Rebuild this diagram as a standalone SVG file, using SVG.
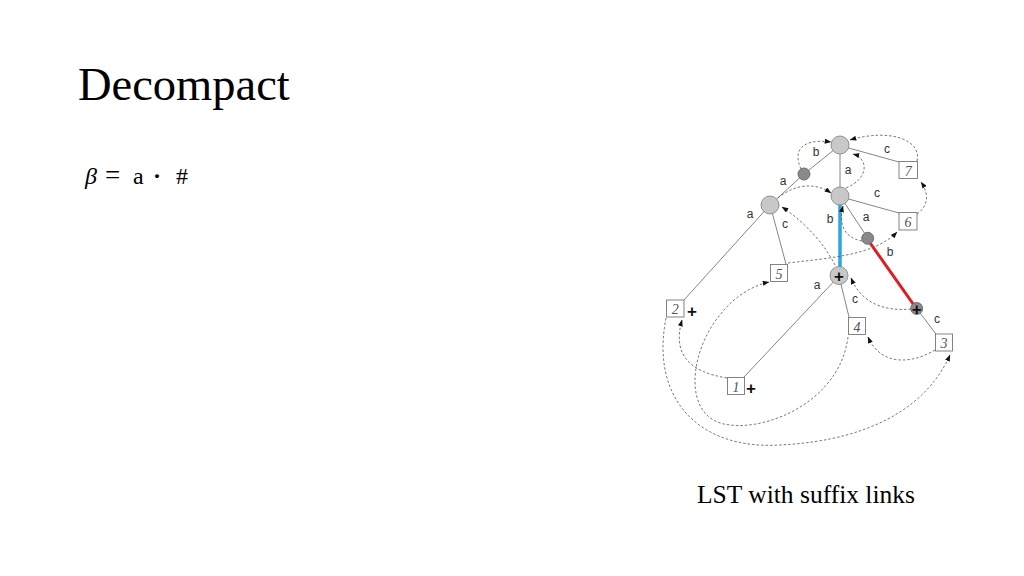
<svg xmlns="http://www.w3.org/2000/svg" width="1024" height="576" viewBox="0 0 1024 576">
<defs>
<marker id="ah" viewBox="0 0 8 6" refX="7.5" refY="3" markerWidth="7" markerHeight="5" orient="auto" markerUnits="userSpaceOnUse">
<path d="M0,0 L8,3 L0,6 Z" fill="#111"/>
</marker>
<style>
.t{font-family:"Liberation Serif","Times New Roman",serif;fill:#000}
.e{stroke:#777;stroke-width:0.9;fill:none}
.s{stroke:#555;stroke-width:0.8;fill:none;stroke-dasharray:2.5 2;marker-end:url(#ah)}
.n{fill:#c8c8c8;stroke:#888;stroke-width:0.9}
.d{fill:#8a8a8a;stroke:#666;stroke-width:0.9}
.b{fill:#fff;stroke:#777;stroke-width:0.9}
.bl{font-family:"Liberation Serif",serif;font-style:italic;font-size:14px;fill:#555;text-anchor:middle}
.l{font-family:"Liberation Sans",Arial,sans-serif;font-size:12px;fill:#333;text-anchor:middle}
.p{font-family:"Liberation Sans",Arial,sans-serif;font-size:17px;font-weight:bold;fill:#111;text-anchor:middle}
</style>
</defs>
<rect width="1024" height="576" fill="#fff"/>
<text class="t" x="78" y="100" font-size="46.5">Decompact</text>
<text class="t" font-size="24" y="184"><tspan x="85" font-style="italic">β</tspan><tspan x="105" font-size="27">=</tspan><tspan x="133">a</tspan><tspan x="153" font-weight="bold">·</tspan><tspan x="176">#</tspan></text>
<text class="t" x="697" y="503" font-size="25.5">LST with suffix links</text>

<g id="edges">
<line class="e" x1="840" y1="145" x2="804" y2="174"/>
<line class="e" x1="804" y1="174" x2="770" y2="205"/>
<line class="e" x1="840" y1="145" x2="840" y2="196"/>
<line class="e" x1="845" y1="147" x2="899" y2="162"/>
<line class="e" x1="845" y1="198" x2="899" y2="213"/>
<line class="e" x1="840" y1="196" x2="867.7" y2="238"/>
<line class="e" x1="770" y1="205" x2="684" y2="300"/>
<line class="e" x1="772" y1="212" x2="786" y2="264"/>
<line class="e" x1="839" y1="276" x2="744" y2="377"/>
<line class="e" x1="839" y1="276" x2="849" y2="317"/>
<line class="e" x1="917" y1="309" x2="936" y2="334"/>
<line x1="840" y1="204" x2="840" y2="267" stroke="#29a8e0" stroke-width="3.5"/>
<line x1="868" y1="240" x2="916.7" y2="309" stroke="#e51a1f" stroke-width="3"/>
</g>

<g id="links">
<path class="s" d="M801,169 C793,152 800,138 831,142"/>
<path class="s" d="M917,161 C922,140 890,128 850,140"/>
<path class="s" d="M846,188 C870,178 868,158 853,154"/>
<path class="s" d="M917,214 C930,205 928,192 921,182"/>
<path class="s" d="M778,198 C795,184 815,182 831,193"/>
<path class="s" d="M835,265 C825,245 805,222 782,207"/>
<path class="s" d="M788,263 C830,258 875,255 897,232"/>
<path class="s" d="M862,241 C845,238 838,225 843,206"/>
<path class="s" d="M911,309 C880,312 860,300 851,278"/>
<path class="s" d="M935,350 C910,365 880,365 868,337"/>
<path class="s" d="M727,378 C690,372 672,355 682,320"/>
<path class="s" d="M848,337 C840,400 770,430 730,425 C680,420 690,350 720,315 C735,295 755,285 769,282"/>
<path class="s" d="M666,318 C650,400 700,450 780,445 C880,440 930,400 950,355"/>
</g>

<g id="labels">
<text class="l" x="816" y="156">b</text>
<text class="l" x="848" y="174">a</text>
<text class="l" x="887" y="153">c</text>
<text class="l" x="783" y="185">a</text>
<text class="l" x="750" y="218">a</text>
<text class="l" x="785" y="228">c</text>
<text class="l" x="830" y="223">b</text>
<text class="l" x="877" y="197">c</text>
<text class="l" x="866" y="221">a</text>
<text class="l" x="890" y="256">b</text>
<text class="l" x="817" y="289">a</text>
<text class="l" x="855" y="303">c</text>
<text class="l" x="937" y="323">c</text>
</g>

<g id="nR"><circle class="n" cx="840" cy="145" r="9"/></g>
<g id="nD1"><circle class="d" cx="804" cy="174" r="6"/></g>
<g id="nA"><circle class="n" cx="770" cy="205" r="9"/></g>
<g id="nB"><circle class="n" cx="840" cy="196" r="9"/></g>
<g id="nD2"><circle class="d" cx="867.7" cy="238.3" r="6"/></g>
<g id="nP"><circle class="n" cx="839" cy="275.5" r="9"/><text class="p" x="839" y="281.5">+</text></g>
<g id="nD3"><circle class="d" cx="916.7" cy="308.5" r="6"/><text class="p" x="916.7" y="314.5">+</text></g>
<g id="n7"><rect class="b" x="899" y="161.5" width="18.5" height="17"/><text class="bl" x="908.3" y="175.5">7</text></g>
<g id="n6"><rect class="b" x="899" y="212.5" width="18" height="17.5"/><text class="bl" x="908" y="226.5">6</text></g>
<g id="n5"><rect class="b" x="770.5" y="264.5" width="17" height="17"/><text class="bl" x="779" y="278.5">5</text></g>
<g id="n4"><rect class="b" x="848.5" y="317.5" width="17" height="17"/><text class="bl" x="857" y="331.5">4</text></g>
<g id="n3"><rect class="b" x="935.5" y="334" width="17" height="17"/><text class="bl" x="944" y="348">3</text></g>
<g id="n2"><rect class="b" x="666.5" y="300" width="17.5" height="17"/><text class="bl" x="675.3" y="314">2</text><text class="p" x="692" y="317">+</text></g>
<g id="n1"><rect class="b" x="727.5" y="377.5" width="17" height="17"/><text class="bl" x="736" y="391.5">1</text><text class="p" x="751" y="394">+</text></g>
</svg>
